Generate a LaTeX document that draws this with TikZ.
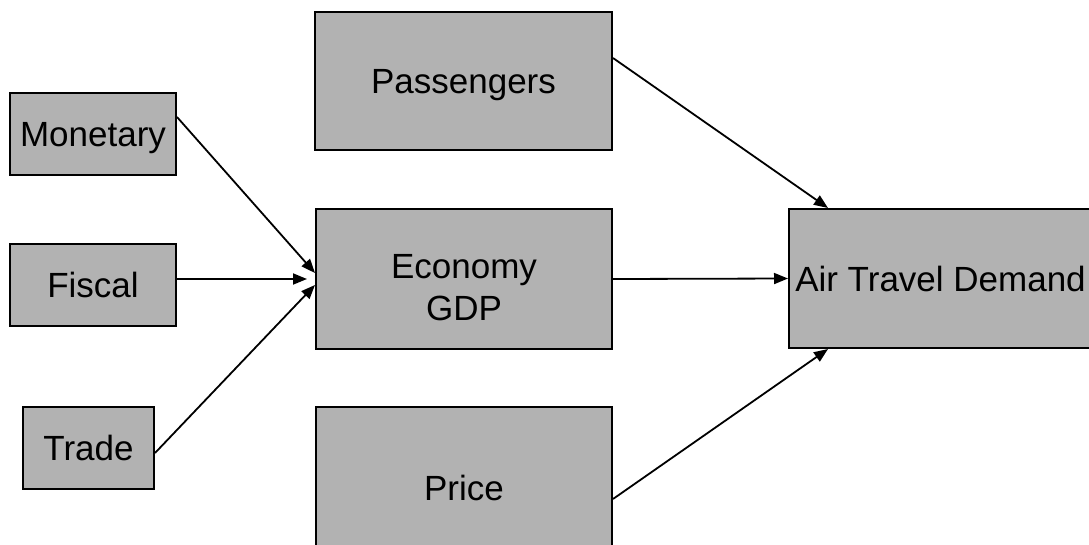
\documentclass[tikz,border=0pt]{standalone}
\usepackage{fontspec}
\setmainfont{Liberation Sans}
\usetikzlibrary{arrows.meta,calc}
\definecolor{boxfill}{RGB}{178,178,178}
\begin{document}
\begin{tikzpicture}[x=1pt,y=-1pt,
  box/.style={draw=black, line width=2pt, fill=boxfill, inner sep=0pt,
    font=\fontsize{35}{42}\selectfont, text height=25pt, text depth=0pt},
  lbl/.style={font=\fontsize{35}{42}\selectfont, align=center, inner sep=0pt},
  conn/.style={draw=black, line width=1.8pt, -{Triangle[length=14pt,width=11pt]}}
]
\useasboundingbox (0,0) rectangle (1089,544);
% boxes
\node[box, minimum width=166pt, minimum height=82pt] (mon) at (93,134) {Monetary};
\node[box, minimum width=166pt, minimum height=82pt] (fis) at (93,285) {Fiscal};
\node[box, minimum width=131pt, minimum height=82pt] (tra) at (88.5,448) {Trade};
\node[box, minimum width=297pt, minimum height=138pt] (pas) at (463.5,81) {Passengers};
\node[box, minimum width=296pt, minimum height=140pt,
  label={[lbl, yshift=-9pt]center:{Economy\\GDP}}] (eco) at (464,279) {};
\node[box, minimum width=296pt, minimum height=140pt,
  label={[lbl, text height=25pt, text depth=0pt, yshift=-10.5pt]center:Price}] (pri) at (464,477) {};
\node[box, minimum width=303pt, minimum height=139pt] (air) at (940.5,278.5) {Air Travel Demand};
% connectors
\draw[conn] ([yshift=-25pt]mon.north east) -- ([yshift=6pt]eco.west);
\draw[conn] (fis.east |- eco.west) -- ([xshift=-8pt]eco.west);
\draw[conn] ([yshift=-5pt]tra.east) -- ([yshift=-6pt]eco.west);
\draw[conn] ([yshift=23pt]pas.east) -- ([xshift=40pt]air.north west);
\draw[conn] (eco.east) -- (air.west);
\draw[conn] ([yshift=-22pt]pri.east) -- ([xshift=40pt]air.south west);
\end{tikzpicture}
\end{document}
